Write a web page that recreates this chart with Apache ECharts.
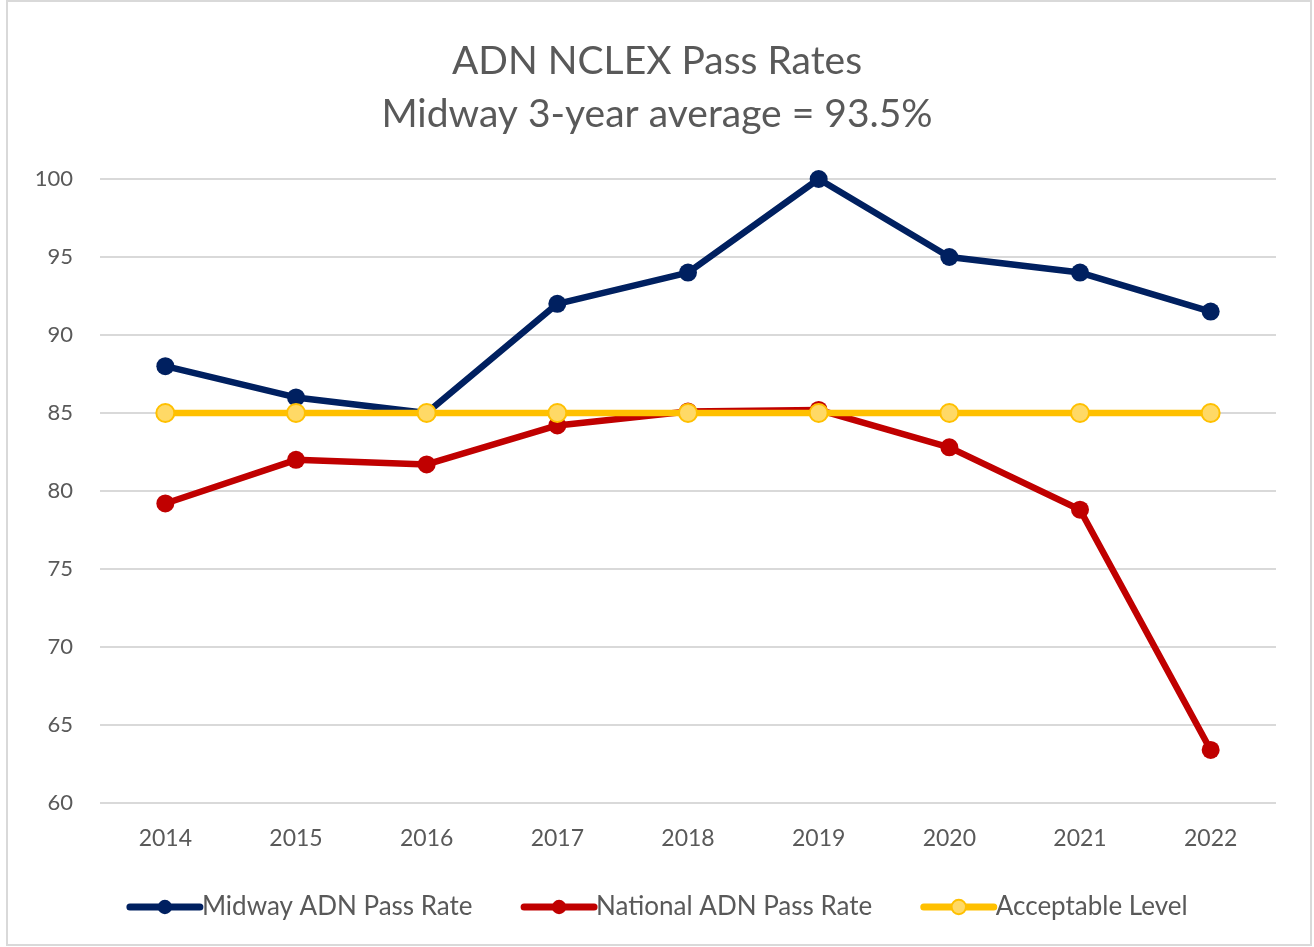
<!DOCTYPE html>
<html>
<head>
<meta charset="utf-8">
<script src="https://cdn.jsdelivr.net/npm/echarts@6/dist/echarts.min.js"></script>
<style>
  html, body { margin: 0; padding: 0; background: #fff; }
  #chart { width: 1314px; height: 947px; }
</style>
</head>
<body>
<div id="chart"></div>
<script>
// data
var years = ['2014', '2015', '2016', '2017', '2018', '2019', '2020', '2021', '2022'];
var midway = [88, 86, 85, 92, 94, 100, 95, 94, 91.5];
var national = [79.2, 82, 81.7, 84.2, 85.1, 85.2, 82.8, 78.8, 63.4];
var acceptable = [85, 85, 85, 85, 85, 85, 85, 85, 85];
var yTicks = [60, 65, 70, 75, 80, 85, 90, 95, 100];

var font = 'Lato, "Open Sans", sans-serif';
var grey = '#595959';

function lineSeries(name, data, color, fill) {
  return {
    name: name,
    type: 'line',
    data: data,
    symbol: 'circle',
    symbolSize: 18,
    lineStyle: { color: color, width: 6.5, cap: 'round', join: 'round' },
    itemStyle: { color: fill || color, borderColor: color, borderWidth: fill ? 2 : 0 },
    emphasis: { disabled: true },
    z: 3
  };
}

var chart = echarts.init(document.getElementById('chart'));
chart.setOption({
  animation: false,
  backgroundColor: '#fff',
  graphic: [{
    type: 'rect',
    shape: { x: 7, y: 1, width: 1304, height: 944 },
    style: { fill: 'none', stroke: '#d9d9d9', lineWidth: 2 },
    silent: true
  }],
  title: {
    text: 'ADN NCLEX Pass Rates\nMidway 3-year average = 93.5%',
    left: 'center',
    top: 30,
    textStyle: {
      fontFamily: font,
      fontSize: 39,
      fontWeight: 'normal',
      color: grey,
      lineHeight: 53
    }
  },
  legend: {
    bottom: 22,
    left: 'center',
    itemWidth: 70,
    itemHeight: 18,
    itemGap: 48,
    lineStyle: { width: 7, cap: 'round' },
    textStyle: { fontFamily: font, fontSize: 26, color: grey, padding: [0, 0, 0, -3] },
    data: ['Midway ADN Pass Rate', 'National ADN Pass Rate', 'Acceptable Level']
  },
  grid: { left: 100, right: 38, top: 179, bottom: 144 },
  xAxis: {
    type: 'category',
    data: years,
    boundaryGap: true,
    axisLine: { show: false },
    axisTick: { show: false },
    axisLabel: { fontFamily: font, fontSize: 23, color: grey, margin: 24 }
  },
  yAxis: {
    type: 'value',
    min: yTicks[0],
    max: yTicks[yTicks.length - 1],
    interval: 5,
    axisLine: { show: false },
    axisTick: { show: false },
    splitLine: { lineStyle: { color: '#d9d9d9', width: 2 } },
    axisLabel: { fontFamily: font, fontSize: 22, color: grey, margin: 27 }
  },
  series: [
    lineSeries('Midway ADN Pass Rate', midway, '#002060'),
    lineSeries('National ADN Pass Rate', national, '#c00000'),
    lineSeries('Acceptable Level', acceptable, '#ffc000', '#ffd966')
  ]
});
</script>
</body>
</html>
